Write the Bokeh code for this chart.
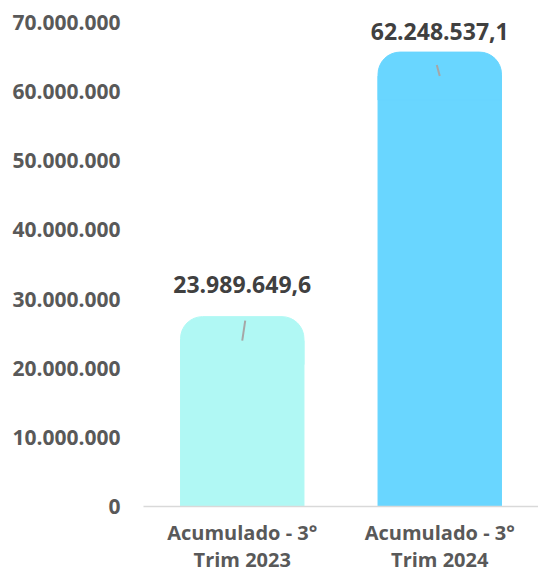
from bokeh.plotting import figure
from bokeh.models import ColumnDataSource, FactorRange, Range1d, FixedTicker
from bokeh.core.properties import value
from bokeh.transform import dodge
from bokeh.embed import file_html
from bokeh.resources import INLINE

categories = ["Acumulado - 3°\nTrim 2023", "Acumulado - 3°\nTrim 2024"]
values = [23989649.6, 62248537.1]
colors = ["#B0F8F4", "#69D6FF"]
y_ticks = [0, 10000000, 20000000, 30000000, 40000000, 50000000, 60000000, 70000000]
y_tick_labels = ["0", "10.000.000", "20.000.000", "30.000.000", "40.000.000",
                 "50.000.000", "60.000.000", "70.000.000"]


def fmt(v):
    s = f"{v:,.1f}"
    return s.replace(",", "X").replace(".", ",").replace("X", ".")


labels = [fmt(v) for v in values]
label_offsets = [-56, -45]
# small leader strokes (length in px converted to data units, tilt)
px = 70000000 / 483
leader_len = [20 * px, 11 * px]
leader_tilt = [0.015, -0.015]

src = ColumnDataSource(dict(cat=categories, val=values, color=colors,
                            label=labels, off=label_offsets,
                            ltop=[v + l for v, l in zip(values, leader_len)]))

p = figure(width=538, height=575, output_backend="svg", toolbar_location=None,
           x_range=FactorRange(*categories, range_padding=0),
           y_range=Range1d(0, 70000000),
           min_border_left=143, min_border_right=0, min_border_top=22,
           min_border_bottom=60)
p.outline_line_color = None
p.grid.grid_line_color = None

p.vbar(x="cat", top="val", bottom=0, width=0.625, color="color", source=src)
p.rect(x="cat", y="val", width=0.625, height=48, height_units="screen",
       color="color", border_radius=(22, 22, 0, 0), source=src)

for i in range(len(categories)):
    s = ColumnDataSource(dict(cat=[categories[i]], val=[values[i]],
                              ltop=[values[i] + leader_len[i]]))
    p.segment(x0=dodge("cat", 0.0, range=p.x_range), y0="val",
              x1=dodge("cat", leader_tilt[i], range=p.x_range), y1="ltop",
              line_color="#A6A6A6", line_width=2, source=s)

p.text(x="cat", y="val", text="label", y_offset="off", source=src,
       text_align="center", text_baseline="middle",
       text_font=value("Open Sans"), text_font_style="bold",
       text_font_size="23px", text_color="#404040")

p.yaxis.ticker = FixedTicker(ticks=y_ticks)
p.yaxis.major_label_overrides = {t: l for t, l in zip(y_ticks, y_tick_labels)}
p.yaxis.axis_line_color = None
p.yaxis.major_tick_line_color = None
p.yaxis.minor_tick_line_color = None
p.yaxis.major_label_standoff = 17
p.yaxis.major_label_text_font = "Open Sans"
p.yaxis.major_label_text_font_style = "bold"
p.yaxis.major_label_text_font_size = "21px"
p.yaxis.major_label_text_color = "#595959"

p.xaxis.axis_line_color = "#D9D9D9"
p.xaxis.axis_line_width = 1.5
p.xaxis.major_tick_line_color = None
p.xaxis.minor_tick_line_color = None
p.xaxis.major_label_standoff = 6
p.xaxis.major_label_text_font = "Open Sans"
p.xaxis.major_label_text_font_style = "bold"
p.xaxis.major_label_text_font_size = "20px"
p.xaxis.major_label_text_color = "#595959"
p.xaxis.major_label_text_line_height = 1.0

open("out.html", "w").write(file_html(p, INLINE))
